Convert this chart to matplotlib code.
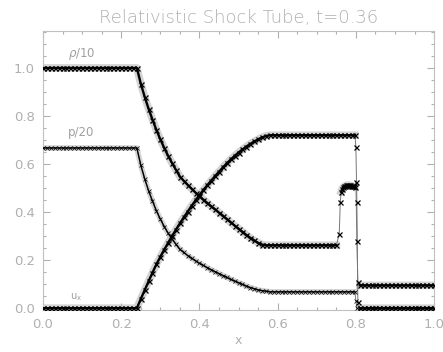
import numpy as np
import matplotlib.pyplot as plt
from matplotlib.ticker import MultipleLocator

# sample positions
x_left = np.linspace(0.0, 0.23, 24)
x_fan = np.linspace(0.24, 0.57, 34)
x_mid = np.linspace(0.58, 0.75, 18)
x_mid_long = np.linspace(0.58, 0.79, 22)
x_right = np.linspace(0.81, 1.0, 20)

# rarefaction fan, 0.24 .. 0.57
rho_fan = [1.000, 0.935, 0.880, 0.830, 0.785, 0.742, 0.703, 0.667, 0.634, 0.604,
           0.576, 0.548, 0.530, 0.513, 0.497, 0.481, 0.466, 0.452, 0.438, 0.424,
           0.411, 0.398, 0.385, 0.371, 0.357, 0.344, 0.331, 0.318, 0.305, 0.293,
           0.282, 0.272, 0.265, 0.262]
u_fan = [0.000, 0.038, 0.075, 0.112, 0.148, 0.183, 0.214, 0.244, 0.272, 0.300,
         0.327, 0.353, 0.378, 0.402, 0.426, 0.449, 0.471, 0.492, 0.512, 0.531,
         0.550, 0.568, 0.586, 0.603, 0.619, 0.634, 0.648, 0.661, 0.673, 0.684,
         0.694, 0.703, 0.711, 0.717]
p_fan = [0.667, 0.596, 0.539, 0.489, 0.446, 0.405, 0.371, 0.340, 0.312, 0.288,
         0.266, 0.245, 0.232, 0.219, 0.208, 0.197, 0.187, 0.178, 0.169, 0.160,
         0.152, 0.144, 0.136, 0.128, 0.120, 0.113, 0.106, 0.099, 0.092, 0.086,
         0.081, 0.076, 0.073, 0.071]

# plateau levels
rho_l, rho_m, rho_r = 1.0, 0.262, 0.095
u_l, u_m, u_r = 0.0, 0.72, 0.0
p_l, p_m, p_r = 0.667, 0.068, 0.0

# contact + shocked shell (fine cells)
x_cd = np.linspace(0.7575, 0.7975, 17)
rho_cd = [0.31, 0.44, 0.485, 0.497, 0.503, 0.507, 0.509, 0.511, 0.512,
          0.512, 0.512, 0.511, 0.510, 0.509, 0.508, 0.507, 0.506]

# shock front cells
x_sh = [0.80, 0.8025, 0.805]
rho_sh = [0.525, 0.28, 0.108]
u_sh_x = [0.7975, 0.80, 0.8025, 0.805]
u_sh = [0.72, 0.67, 0.44, 0.025]
p_sh_x = [0.7975, 0.80, 0.8025]
p_sh = [0.068, 0.03, 0.0]

# cells sitting inside a jump (drawn with thin connecting line only)
rho_jump = [0.7575, 0.76, 0.80, 0.8025, 0.805]
u_jump = [0.80, 0.8025, 0.805]
p_jump = [0.80, 0.8025]

rho_x = np.concatenate([x_left, x_fan, x_mid, x_cd, x_sh, x_right])
rho = np.concatenate([np.full(len(x_left), rho_l), rho_fan, np.full(len(x_mid), rho_m),
                      rho_cd, rho_sh, np.full(len(x_right), rho_r)])
u_x = np.concatenate([x_left, x_fan, x_mid_long, u_sh_x, x_right])
u = np.concatenate([np.full(len(x_left), u_l), u_fan, np.full(len(x_mid_long), u_m),
                    u_sh, np.full(len(x_right), u_r)])
p_x = np.concatenate([x_left, x_fan, x_mid_long, p_sh_x, x_right])
p = np.concatenate([np.full(len(x_left), p_l), p_fan, np.full(len(x_mid_long), p_m),
                    p_sh, np.full(len(x_right), p_r)])

gray = '#b0b0b0'
plt.rcParams['font.family'] = 'DejaVu Sans'

fig = plt.figure(figsize=(4.43, 3.52), dpi=100)
ax = fig.add_axes([0.097, 0.119, 0.883, 0.793])


def draw(xx, yy, jumps, lw, ms, mew, halo):
    smooth = yy.copy()
    smooth[np.isin(np.round(xx, 4), jumps)] = np.nan
    ax.plot(xx, smooth, color='#c8c8c8', lw=halo, alpha=0.8, zorder=1)
    ax.plot(xx, yy, color='#777777', lw=0.7, zorder=2)
    ax.plot(xx, smooth, color='k', lw=lw, zorder=3)
    ax.plot(xx, yy, ls='none', marker='x', color='k', ms=ms, mew=mew, zorder=4)


draw(rho_x, rho, rho_jump, 1.7, 3.6, 0.9, 5.5)
draw(u_x, u, u_jump, 1.7, 3.6, 0.9, 5.5)
draw(p_x, p, p_jump, 1.0, 2.2, 0.5, 4)

ax.text(0.063, 1.06, r'$\rho$/10', color='#a0a0a0', fontsize=8.5, va='center')
ax.text(0.063, 0.73, 'p/20', color='#a0a0a0', fontsize=8.5, va='center')
ax.text(0.068, 0.046, r'u$_\mathrm{x}$', color='#a0a0a0', fontsize=7, va='center')

ax.set_xlim(0, 1)
ax.set_ylim(-0.008, 1.154)
ax.xaxis.set_minor_locator(MultipleLocator(0.05))
ax.yaxis.set_minor_locator(MultipleLocator(0.05))
ax.set_xticks([0.0, 0.2, 0.4, 0.6, 0.8, 1.0])
ax.set_xticklabels(['0.0', '0.2', '0.4', '0.6', '0.8', '1.0'])
ax.set_yticks([0.0, 0.2, 0.4, 0.6, 0.8, 1.0])
ax.set_yticklabels(['0.0', '0.2', '0.4', '0.6', '0.8', '1.0'])
ax.tick_params(which='both', direction='in', top=True, right=True,
               color=gray, labelcolor=gray, labelsize=9.5, width=0.8)
ax.tick_params(which='major', length=5, pad=6)
ax.tick_params(which='minor', length=2.5)
for s in ax.spines.values():
    s.set_color('#c0c0c0')
    s.set_linewidth(0.8)

ax.set_xlabel('x', color=gray, fontsize=9, labelpad=2)
ax.set_title('Relativistic Shock Tube, t=0.36', color=gray, fontsize=13,
             fontweight='light', pad=6)

fig.savefig('out.png', dpi=100)
